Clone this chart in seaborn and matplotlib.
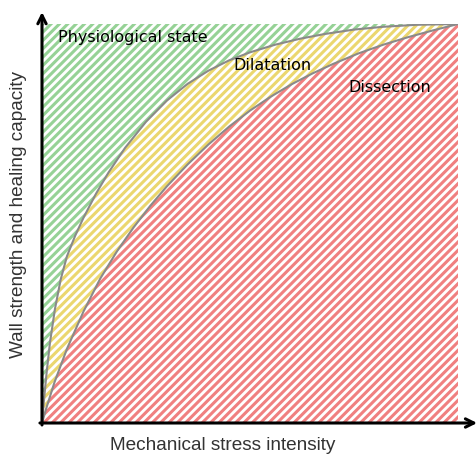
import numpy as np
import matplotlib
matplotlib.use("Agg")
import matplotlib.pyplot as plt
import seaborn as sns

# curve points (x = stress, y = wall strength)
upper_x = [0, 0.005, 0.011, 0.019, 0.031, 0.045, 0.06, 0.08, 0.10, 0.13, 0.16,
           0.20, 0.25, 0.30, 0.35, 0.40, 0.45, 0.50, 0.56, 0.62, 0.68, 0.75,
           0.82, 0.90, 1.0]
upper_y = [0, 0.06, 0.125, 0.2, 0.285, 0.36, 0.418, 0.47, 0.515, 0.575, 0.628,
           0.69, 0.755, 0.808, 0.85, 0.883, 0.909, 0.929, 0.948, 0.963, 0.975, 0.986,
           0.993, 0.998, 1.0]

lower_x = [0, 0.01, 0.03, 0.06, 0.10, 0.14, 0.18, 0.22, 0.26, 0.30, 0.35, 0.40,
           0.45, 0.50, 0.55, 0.60, 0.65, 0.70, 0.76, 0.82, 0.88, 0.94, 1.0]
lower_y = [0, 0.036, 0.102, 0.186, 0.28, 0.362, 0.43, 0.49, 0.544, 0.593, 0.648, 0.698,
           0.743, 0.783, 0.818, 0.849, 0.876, 0.9, 0.926, 0.948, 0.967, 0.984, 1.0]

regions = ['Physiological state', 'Dilatation', 'Dissection']
region_colors = ['#96d296', '#ebd76e', '#f08080']

sns.set_theme(style='white')
plt.rcParams['font.family'] = ['DejaVu Sans']
plt.rcParams['hatch.linewidth'] = 2.2

fig = plt.figure(figsize=(4.77, 4.57), dpi=100)
ax = fig.add_axes([42 / 477, 34 / 457, 416 / 477, 399 / 457])

# green: whole area, yellow: under upper curve, red: under lower curve
ax.fill_between([0, 1], 0, 1, facecolor='white', edgecolor=region_colors[0], hatch='////', linewidth=0)
ax.fill_between(upper_x, 0, upper_y, facecolor='white', edgecolor=region_colors[1], hatch='////', linewidth=0)
ax.fill_between(lower_x, 0, lower_y, facecolor='white', edgecolor=region_colors[2], hatch='////', linewidth=0)

sns.lineplot(x=upper_x, y=upper_y, ax=ax, color='#8a8a8a', linewidth=1.5, sort=False)
sns.lineplot(x=lower_x, y=lower_y, ax=ax, color='#8a8a8a', linewidth=1.5, sort=False)

ax.set_xlim(0, 1)
ax.set_ylim(0, 1)
ax.axis('off')

arrow = dict(arrowstyle='->,head_length=0.5,head_width=0.25', lw=2.2, color='black',
             shrinkA=0, shrinkB=0)
ax.annotate('', xy=(0, 1.03), xytext=(0, -0.005), arrowprops=arrow, annotation_clip=False)
ax.annotate('', xy=(1.046, 0), xytext=(-0.005, 0), arrowprops=arrow, annotation_clip=False)

ax.text(0.038, 0.965, regions[0], fontsize=11.5, va='center', ha='left', color='black')
ax.text(0.459, 0.895, regions[1], fontsize=11.5, va='center', ha='left', color='black')
ax.text(0.736, 0.84, regions[2], fontsize=11.5, va='center', ha='left', color='black')

fig.text(223 / 477, 1 - 446 / 457, 'Mechanical stress intensity', fontsize=13.7,
         family='Liberation Sans', ha='center', va='center', color='#333333')
fig.text(19 / 477, 1 - 215 / 457, 'Wall strength and healing capacity', fontsize=13.7,
         family='Liberation Sans', ha='center', va='center', rotation=90, color='#333333')

fig.savefig('out.png', dpi=100)
